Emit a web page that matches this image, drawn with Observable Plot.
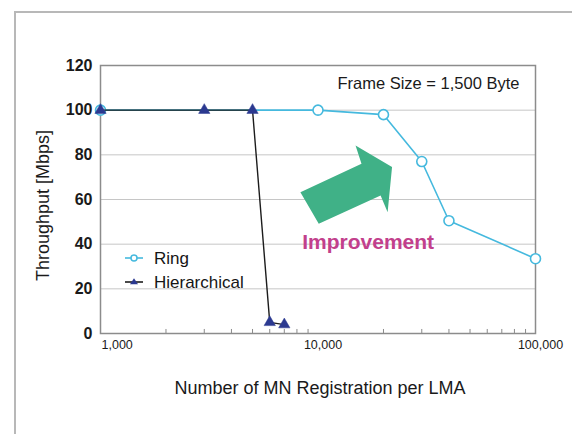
<!DOCTYPE html>
<html><head><meta charset="utf-8">
<script src="https://cdn.jsdelivr.net/npm/d3@7"></script>
<script src="https://cdn.jsdelivr.net/npm/@observablehq/plot@0.6"></script>
<style>
html,body{margin:0;padding:0;background:#fff;}
#wrap{position:relative;width:572px;height:434px;overflow:hidden;font-family:"Liberation Sans",Arial,sans-serif;}
#wrap svg.plot{position:absolute;left:0;top:0;}
#border{position:absolute;left:14px;top:11px;width:700px;height:600px;border-left:2px solid #b8b8b8;border-top:2px solid #b8b8b8;}
.lg{position:absolute;font-size:17px;line-height:17px;color:#151515;white-space:nowrap;}
.lgs{position:absolute;}
</style></head><body>
<div id="wrap"></div>
<script>
// ---- data ----
const xTicks = [1000, 10000, 100000];
const xTickLabels = ["1,000", "10,000", "100,000"];
const minorTicks = [2000, 3000, 4000, 5000, 6000, 7000, 8000, 9000, 20000, 30000, 40000, 50000, 60000, 70000, 80000, 90000];
const yTicks = [0, 20, 40, 60, 80, 100, 120];
const gridY = [20, 40, 60, 80, 100];

const ringX = [1000, 10000, 20000, 30000, 40000, 100000];
const ringY = [100, 100, 98, 77, 50.5, 33.5];
const hierX = [1000, 3000, 5000, 6000, 7000];
const hierY = [100, 100, 100, 5, 4];

// annotation arrow outline (data coordinates)
const arrowX = [8300, 15850, 14880, 21900, 20900, 19400, 10080];
const arrowY = [63.3, 76.0, 84.2, 74.5, 54.3, 61.8, 49.1];
const annoText = ["Improvement"];
const annoX = [17000];
const annoY = [40.7];

const ringColor = "#45b9de";
const hierColor = "#2b3990";

const ring = ringX.map((x, i) => ({x, y: ringY[i]}));
const hier = hierX.map((x, i) => ({x, y: hierY[i]}));
const arrow = arrowX.map((x, i) => ({x, y: arrowY[i]}));
const xt = xTicks.map((x, i) => ({x, label: xTickLabels[i]}));

const chart = Plot.plot({
  width: 572,
  height: 434,
  marginLeft: 100,
  marginRight: 37,
  marginTop: 65,
  marginBottom: 101,
  style: {background: "transparent", fontFamily: "Liberation Sans, Arial, sans-serif"},
  x: {type: "log", domain: [1000, 100000], axis: null},
  y: {domain: [0, 120], axis: null},
  marks: [
    Plot.ruleY(gridY, {stroke: "#c6c6c6", strokeWidth: 1}),
    Plot.ruleX(minorTicks, {y1: 0, y2: 1.8, stroke: "#8a8a8a", strokeWidth: 1}),
    Plot.frame({stroke: "#8c8c8c", strokeWidth: 1.5}),
    // y tick labels
    Plot.text(yTicks, {y: d => d, frameAnchor: "left", textAnchor: "end", dx: -8, fontSize: 16, fontWeight: "bold", fill: "#1a1a1a", text: d => String(d)}),
    // x tick labels
    Plot.text(xt.slice(0, 1), {x: "x", text: "label", frameAnchor: "bottom", textAnchor: "start", lineAnchor: "middle", dy: 11, dx: 1, fontSize: 12.5, fill: "#1a1a1a"}),
    Plot.text(xt.slice(1), {x: "x", text: "label", frameAnchor: "bottom", textAnchor: "middle", lineAnchor: "middle", dy: 11, dx: 5, fontSize: 12.5, fill: "#1a1a1a"}),
    // axis titles
    Plot.text(["Number of MN Registration per LMA"], {frameAnchor: "bottom", lineAnchor: "middle", dy: 55, dx: 2, fontSize: 18, fill: "#1a1a1a", text: d => d}),
    Plot.text(["Throughput [Mbps]"], {frameAnchor: "left", rotate: -90, lineAnchor: "middle", textAnchor: "middle", dx: -57, dy: 6, fontSize: 18, fill: "#1a1a1a", text: d => d}),
    // frame size note
    Plot.text(["Frame Size = 1,500 Byte"], {frameAnchor: "top-right", textAnchor: "end", lineAnchor: "middle", dx: -16, dy: 18, fontSize: 16.5, fill: "#1a1a1a", text: d => d}),
    // arrow
    Plot.line(arrow, {x: "x", y: "y", curve: "linear-closed", fill: "#40b187", stroke: "none"}),
    Plot.text(annoText, {x: (d, i) => annoX[i], y: (d, i) => annoY[i], text: d => d, fontSize: 21, fontWeight: "bold", fill: "#c2408c"}),
    // ring series
    Plot.line(ring, {x: "x", y: "y", stroke: ringColor, strokeWidth: 1.6}),
    Plot.dot(ring, {x: "x", y: "y", r: 5, fill: "white", stroke: ringColor, strokeWidth: 1.6}),
    // hierarchical series
    Plot.line(hier, {x: "x", y: "y", stroke: "#1c1c1c", strokeWidth: 1.4}),
    Plot.dot(hier, {x: "x", y: "y", symbol: "triangle", r: 4.2, fill: hierColor, stroke: hierColor, strokeWidth: 0.5})
  ]
});
const wrap = document.getElementById("wrap");
wrap.appendChild(chart);
const border = document.createElement("div");
border.id = "border";
wrap.appendChild(border);

// legend
const legendItems = [
  {label: "Ring", top: 258, symbol: `<line x1="1" y1="6" x2="19" y2="6" stroke="${ringColor}" stroke-width="1.6"/><circle cx="10" cy="6" r="3" fill="white" stroke="${ringColor}" stroke-width="1.5"/>`},
  {label: "Hierarchical", top: 282, symbol: `<line x1="1" y1="6" x2="19" y2="6" stroke="#1c1c1c" stroke-width="1.6"/><path d="M10,2.2 L14,8.2 L6,8.2 Z" fill="${hierColor}"/>`}
];
legendItems.forEach(it => {
  const s = document.createElementNS("http://www.w3.org/2000/svg", "svg");
  s.setAttribute("class", "lgs");
  s.setAttribute("width", "20"); s.setAttribute("height", "12");
  s.style.left = "124px"; s.style.top = (it.top - 6) + "px";
  s.innerHTML = it.symbol;
  wrap.appendChild(s);
  const t = document.createElement("div");
  t.className = "lg";
  t.textContent = it.label;
  t.style.left = "154px";
  t.style.top = (it.top - 8.5) + "px";
  wrap.appendChild(t);
});
</script>
</body></html>
